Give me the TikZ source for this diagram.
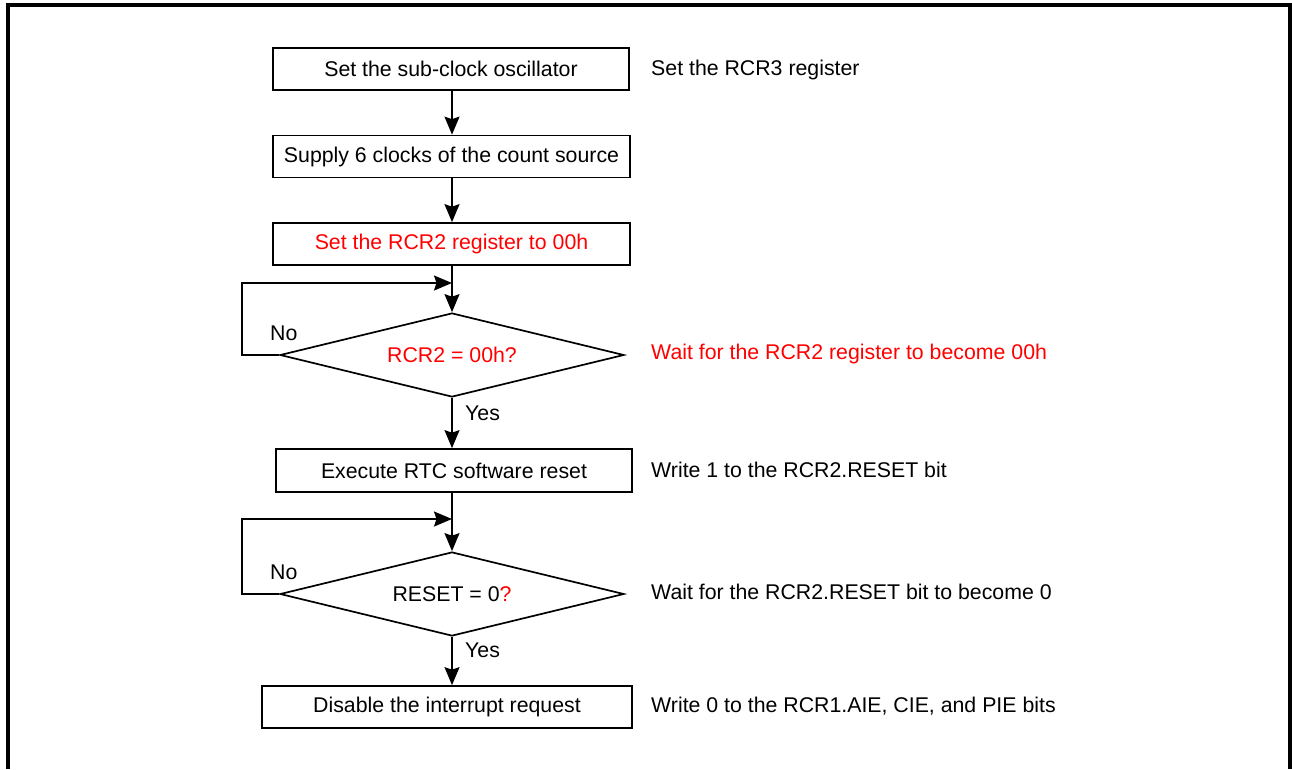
\documentclass[tikz,border=0pt]{standalone}
\usepackage{fontspec}
\setmainfont{Liberation Sans}
\usetikzlibrary{shapes.geometric,arrows.meta}
\definecolor{rred}{RGB}{255,0,0}
\begin{document}
\begin{tikzpicture}[x=1pt,y=-1pt,
  font=\fontsize{21.3}{25}\selectfont,
  procbox/.style={draw,line width=1.7pt,inner sep=0pt,minimum height=42pt,anchor=center},
  decision/.style={draw,diamond,aspect=4.1,line width=1.7pt,inner sep=0pt,minimum width=344pt,minimum height=84pt},
  flow/.style={line width=1.7pt,-{Stealth[length=18pt,width=15pt,inset=2.5pt]}},
  note/.style={anchor=west,inner sep=0pt},
  lbl/.style={inner sep=0pt}]
\useasboundingbox (0,0) rectangle (1292,769);
% frame
\draw[line width=4pt] (8,769) -- (8,4.5) -- (1289.5,4.5) -- (1289.5,769);
% boxes
\node[procbox,minimum width=356pt] (b1) at (451,69) {Set the sub-clock oscillator};
\node[procbox,minimum width=357pt] (b2) at (451.5,156.5) {Supply 6 clocks of the count source};
\node[procbox,minimum width=357pt,text=rred] (b3) at (451.5,244) {Set the RCR2 register to 00h};
\node[decision] (d1) at (452,355) {};
\node[text=rred] at (452,355) {RCR2 = 00h?};
\node[procbox,minimum width=356pt,minimum height=43pt] (b4) at (454,470.5) {Execute RTC software reset};
\node[decision] (d2) at (452,594) {};
\node at (452,594) {RESET = 0\textcolor{rred}{?}};
\node[procbox,minimum width=370pt] (b5) at (447,707) {Disable the interrupt request};
% notes
\node[note] (n1) at (651,70) {Set the RCR3 register};
\node[note,text=rred] (n2) at (651,354) {Wait for the RCR2 register to become 00h};
\node[note] (n3) at (651,470) {Write 1 to the RCR2.RESET bit};
\node[note] (n4) at (651,592) {Wait for the RCR2.RESET bit to become 0};
\node[note] (n5) at (651,706) {Write 0 to the RCR1.AIE, CIE, and PIE bits};
% loop coordinates
\coordinate (l1) at (242,283);
\coordinate (l2) at (242,519);
% connectors
\draw[flow] (d1.north |- b1.south) -- (d1.north |- b2.north);
\draw[flow] (d1.north |- b2.south) -- (d1.north |- b3.north);
\draw[flow] (d1.north |- b3.south) -- (d1.north);
\draw[flow] (d1.west) -- (d1.west -| l1) -- (l1) -- (l1 -| d1.north);
\draw[flow] (d1.south) -- (d1.south |- b4.north);
\draw[flow] (d2.north |- b4.south) -- (d2.north);
\draw[flow] (d2.west) -- (d2.west -| l2) -- (l2) -- (l2 -| d2.north);
\draw[flow] (d2.south) -- (d2.south |- b5.north);
% labels
\node[lbl,anchor=west] (no1) at (270,333) {No};
\node[lbl,anchor=west] (yes1) at (465,413) {Yes};
\node[lbl,anchor=west] (no2) at (270,572) {No};
\node[lbl,anchor=west] (yes2) at (465,650) {Yes};
\end{tikzpicture}
\end{document}
